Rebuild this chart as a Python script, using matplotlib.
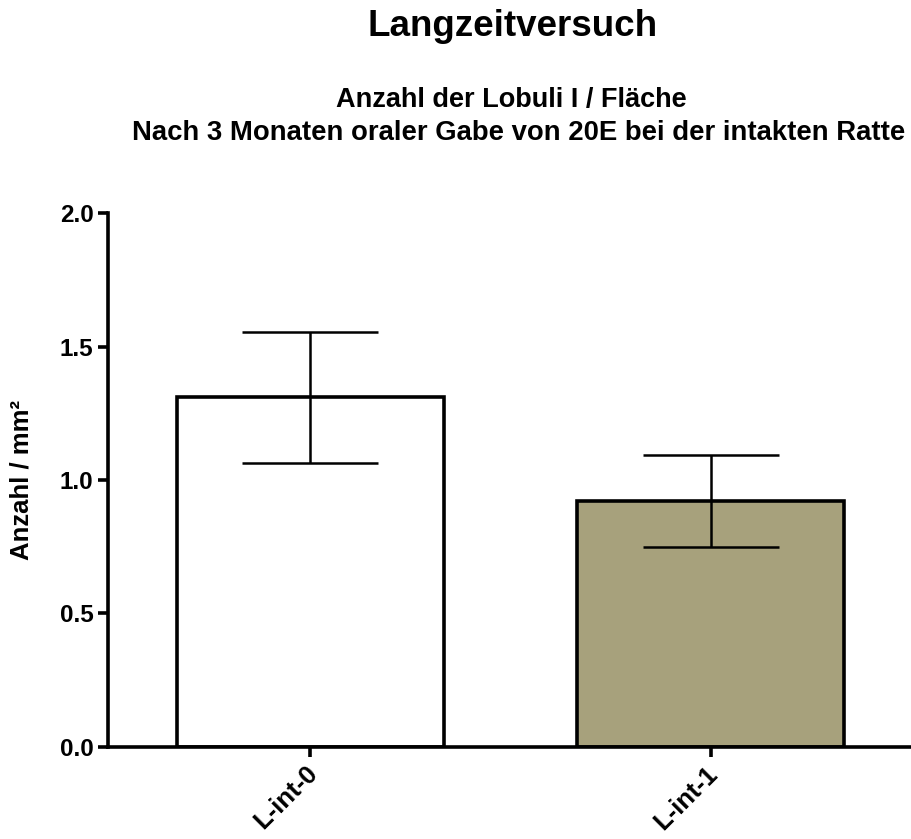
import numpy as np
import matplotlib.pyplot as plt
import matplotlib.transforms as mtransforms

plt.rcParams['font.family'] = ['Liberation Sans', 'DejaVu Sans']
plt.rcParams['font.weight'] = 'bold'

# group means and error (SEM) per group
groups = ['L-int-0', 'L-int-1']
means = [1.31, 0.92]
errors = [0.245, 0.172]
colors = ['white', '#A7A17C']

fig = plt.figure(figsize=(9.11, 8.39), dpi=100)
ax = fig.add_axes([0.1186, 0.1097, 0.8814, 0.6364])

x = np.arange(len(groups))
ax.bar(x, means, width=0.666, color=colors, edgecolor='black', linewidth=2.6, zorder=2)
ax.errorbar(x, means, yerr=errors, fmt='none', ecolor='black', elinewidth=1.8,
            capsize=49, capthick=1.8, zorder=3)

ax.set_xlim(-0.505, 1.5)
ax.set_ylim(0, 2.0)
ax.set_yticks([0.0, 0.5, 1.0, 1.5, 2.0])
ax.set_yticklabels(['0.0', '0.5', '1.0', '1.5', '2.0'])
ax.set_xticks(x)
ax.set_xticklabels(groups, rotation=45, ha='right', va='top', rotation_mode='anchor')

for s in ['top', 'right']:
    ax.spines[s].set_visible(False)
for s in ['left', 'bottom']:
    ax.spines[s].set_linewidth(2.6)
ax.tick_params(axis='both', width=2.6, length=7.5, labelsize=17.5, pad=3)
ax.tick_params(axis='x', labelsize=18.5)
# nudge the rotated category labels slightly left
shift = mtransforms.ScaledTranslation(-5 / 100, 0, fig.dpi_scale_trans)
for lab in ax.get_xticklabels():
    lab.set_transform(lab.get_transform() + shift)
for lab in ax.get_xticklabels() + ax.get_yticklabels():
    lab.set_fontweight('bold')

ax.set_ylabel('Anzahl / mm²', fontsize=18.5, fontweight='bold')
ax.yaxis.set_label_coords(-0.093, 0.5)

fig.text(0.5626, 0.969, 'Langzeitversuch', ha='center', va='center', fontsize=26.5, fontweight='bold')
fig.text(0.5615, 0.881, 'Anzahl der Lobuli I / Fläche', ha='center', va='center', fontsize=19.5, fontweight='bold')
fig.text(0.569, 0.841, 'Nach 3 Monaten oraler Gabe von 20E bei der intakten Ratte', ha='center',
         va='center', fontsize=19.8, fontweight='bold')

fig.savefig('out.png', dpi=100)
